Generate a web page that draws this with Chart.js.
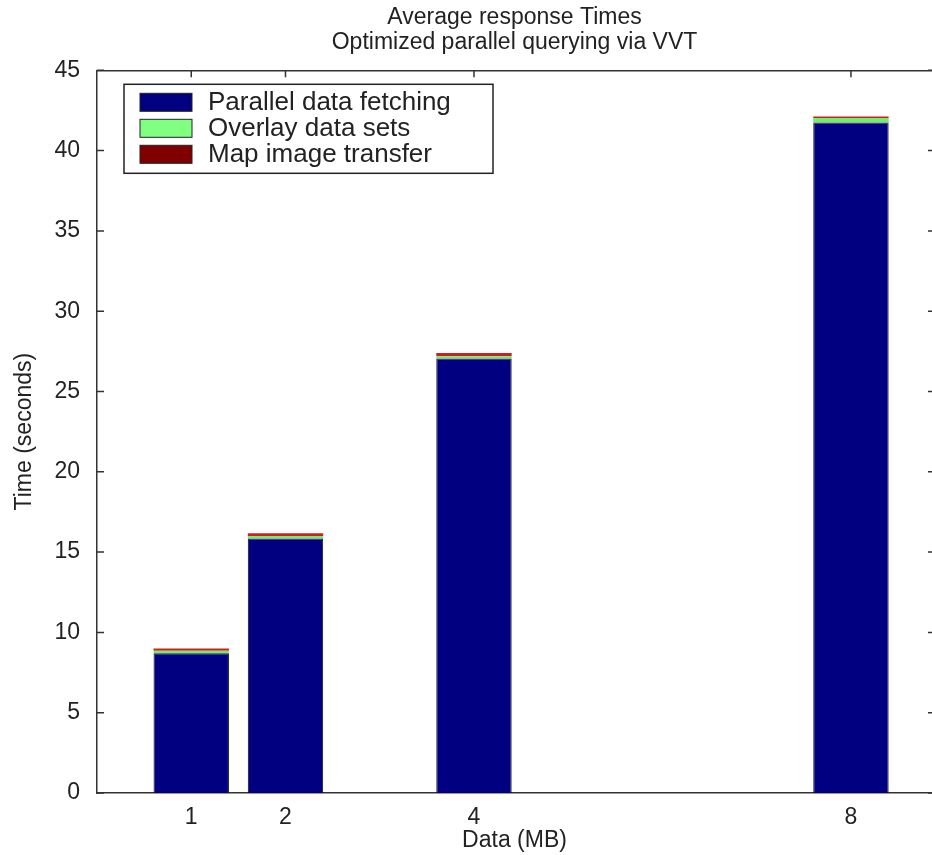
<!DOCTYPE html>
<html>
<head>
<meta charset="utf-8">
<script src="https://cdn.jsdelivr.net/npm/chart.js@4.4.1/dist/chart.umd.min.js"></script>
<style>
  html, body { margin: 0; padding: 0; background: #fff; }
  #wrap { width: 932px; height: 855px; }
</style>
</head>
<body>
<div id="wrap"><canvas id="myChart" width="932" height="855"></canvas></div>
<script>
const sizesMB = [1, 2, 4, 8];
const parallelFetching = [8.7, 15.85, 27.05, 41.75];
const overlaySets = [0.15, 0.15, 0.15, 0.28];
const mapTransfer = [0.15, 0.18, 0.2, 0.1];
const yTickValues = [0, 5, 10, 15, 20, 25, 30, 35, 40, 45];
const seriesNames = ['Parallel data fetching', 'Overlay data sets', 'Map image transfer'];

const FONT = '"Liberation Sans", Arial, Helvetica, sans-serif';
const INK = '#222';
const swatches = ['#000080', '#80ff80', '#800000'];

function points(vals) {
  return sizesMB.map((x, i) => ({ x: x, y: vals[i] }));
}

// matlab style box: top line plus inward ticks
const frame = {
  id: 'frame',
  afterDatasetsDraw(chart) {
    const { ctx, chartArea: a, scales } = chart;
    ctx.save();
    ctx.strokeStyle = '#333';
    ctx.lineWidth = 1.5;
    ctx.beginPath();
    ctx.moveTo(a.left, a.top + 0.5);
    ctx.lineTo(a.right, a.top + 0.5);
    sizesMB.forEach(v => {
      const x = scales.x.getPixelForValue(v);
      ctx.moveTo(x, a.top);
      ctx.lineTo(x, a.top + 7);
    });
    yTickValues.forEach(v => {
      const y = scales.y.getPixelForValue(v);
      ctx.moveTo(a.left, y);
      ctx.lineTo(a.left + 7, y);
      ctx.moveTo(a.right, y);
      ctx.lineTo(a.right - 4, y);
    });
    ctx.stroke();
    ctx.restore();
  }
};

// legend box inside the axes, upper left
const boxLegend = {
  id: 'boxLegend',
  afterDraw(chart) {
    const { ctx, chartArea: a } = chart;
    const x0 = a.left + 27, y0 = a.top + 14;
    const w = 369, h = 89;
    ctx.save();
    ctx.fillStyle = '#fff';
    ctx.fillRect(x0, y0, w, h);
    ctx.strokeStyle = '#222';
    ctx.lineWidth = 1.5;
    ctx.strokeRect(x0, y0, w, h);
    ctx.font = '26px ' + FONT;
    ctx.textBaseline = 'middle';
    seriesNames.forEach((name, i) => {
      const cy = y0 + 18 + i * 26;
      ctx.fillStyle = swatches[i];
      ctx.fillRect(x0 + 16, cy - 9, 52, 18);
      ctx.strokeStyle = '#222';
      ctx.lineWidth = 1;
      ctx.strokeRect(x0 + 16, cy - 9, 52, 18);
      ctx.fillStyle = INK;
      ctx.fillText(name, x0 + 84, cy + 1);
    });
    ctx.restore();
  }
};

const data = {
  datasets: [
    {
      label: seriesNames[0],
      data: points(parallelFetching),
      backgroundColor: '#000080',
      borderColor: '#111',
      borderWidth: 1
    },
    {
      label: seriesNames[1],
      data: points(overlaySets),
      backgroundColor: '#70f070',
      borderWidth: 0
    },
    {
      label: seriesNames[2],
      data: points(mapTransfer),
      backgroundColor: '#cc2020',
      borderWidth: 0
    }
  ]
};

const config = {
  type: 'bar',
  data: data,
  options: {
    responsive: false,
    animation: false,
    layout: { padding: { left: 0, right: 0, top: 0, bottom: 0 } },
    datasets: { bar: { categoryPercentage: 1, barPercentage: 0.8 } },
    plugins: {
      legend: { display: false },
      tooltip: { enabled: false },
      title: {
        display: true,
        fullSize: false,
        text: ['Average response Times', 'Optimized parallel querying via VVT'],
        color: INK,
        font: { family: FONT, size: 23, weight: 'normal', lineHeight: 1.05 },
        padding: { top: 6, bottom: 16 }
      }
    },
    scales: {
      x: {
        type: 'linear',
        stacked: true,
        offset: false,
        min: 0,
        max: 8.86,
        afterBuildTicks: s => { s.ticks = sizesMB.map(v => ({ value: v })); },
        afterFit: s => { s.height = 62; },
        grid: { display: false, offset: false },
        border: { display: true, color: '#333', width: 1.5 },
        ticks: { color: INK, font: { family: FONT, size: 23 }, padding: 3 },
        title: {
          display: true,
          text: 'Data (MB)',
          color: INK,
          font: { family: FONT, size: 23, lineHeight: 1.2 },
          padding: { top: 0, bottom: 1 }
        }
      },
      y: {
        stacked: true,
        min: 0,
        max: 45,
        afterBuildTicks: s => { s.ticks = yTickValues.map(v => ({ value: v })); },
        afterFit: s => { s.width = 97; },
        grid: { display: false },
        border: { display: true, color: '#333', width: 1.5 },
        ticks: { color: INK, font: { family: FONT, size: 23 }, padding: 9 },
        title: {
          display: true,
          text: 'Time (seconds)',
          color: INK,
          font: { family: FONT, size: 23, lineHeight: 1.2 },
          padding: { top: 11, bottom: 0 }
        }
      }
    }
  },
  plugins: [frame, boxLegend]
};

const myChart = new Chart(document.getElementById('myChart'), config);
</script>
</body>
</html>
